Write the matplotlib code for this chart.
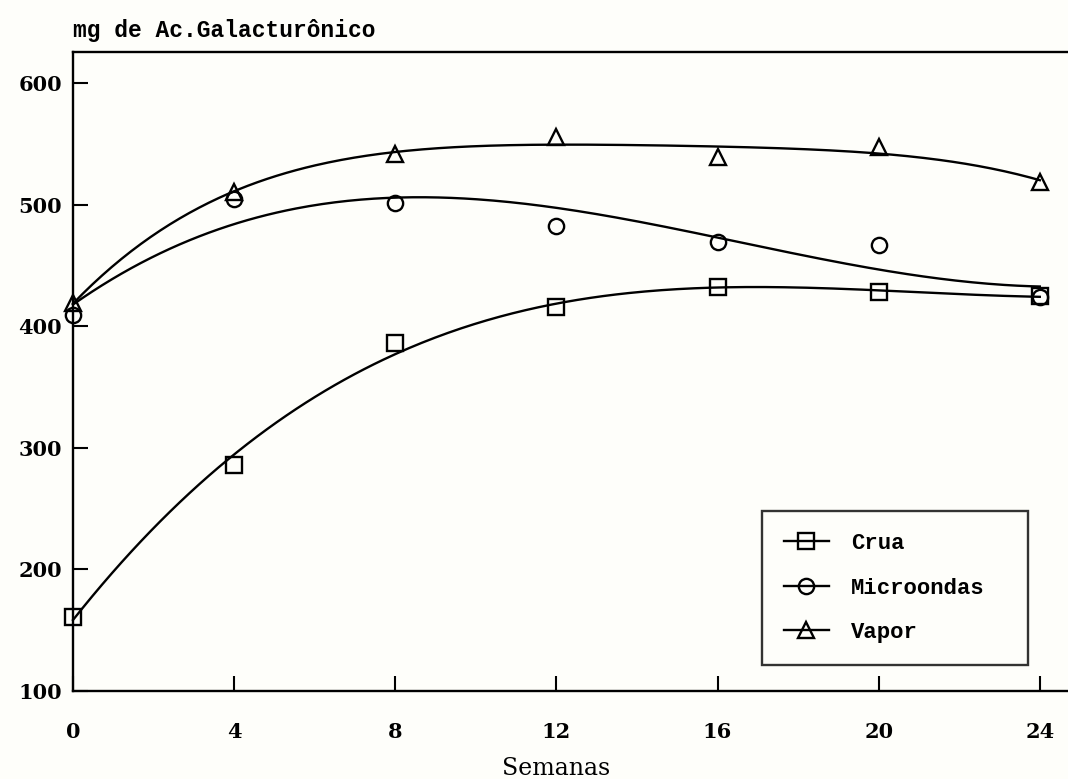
import matplotlib
matplotlib.use("Agg")
import matplotlib.pyplot as plt
import numpy as np
from matplotlib.lines import Line2D

# weeks of storage and pectin content (mg galacturonic acid)
semanas = [0, 4, 8, 12, 16, 20, 24]
crua = [161, 286, 386, 416, 432, 428, 425]
microondas = [409, 505, 501, 482, 469, 467, 424]
vapor = [419, 510, 542, 556, 539, 547, 519]

series = [("Crua", crua, "s", 3), ("Microondas", microondas, "o", 3), ("Vapor", vapor, "^", 4)]

mono = "Liberation Mono"
serif = "DejaVu Serif"
bg = "#fefefa"

fig = plt.figure(figsize=(10.68, 7.79), dpi=100, facecolor=bg)
ax = fig.add_axes([73 / 1068, 1 - 691 / 779, 1 - 73 / 1068, (691 - 52) / 779])
ax.set_facecolor(bg)

xs = np.linspace(0, 24, 300)
handles = []
for name, vals, mk, deg in series:
    # smooth trend: least-squares polynomial through the measured points
    coef = np.polyfit(semanas, vals, deg)
    ax.plot(xs, np.polyval(coef, xs), color="black", lw=1.7, clip_on=False)
    ax.plot(semanas, vals, mk, ms=12 if mk == "^" else 11, mfc="none", mec="black",
            mew=1.7, clip_on=False, zorder=3)
    handles.append(Line2D([], [], color="black", lw=1.7, marker=mk, ms=11, mfc="none",
                          mew=1.7, label=name))

ax.set_xlim(0, 24.7)
ax.set_ylim(100, 625.5)
ax.set_xticks(semanas)
ax.set_yticks([100, 200, 300, 400, 500, 600])
ax.spines["right"].set_visible(False)
for s in ["top", "left", "bottom"]:
    ax.spines[s].set_linewidth(1.7)
ax.tick_params(direction="in", length=11, width=1.5)
ax.tick_params(axis="y", pad=8)
ax.tick_params(axis="x", pad=22)
for lab in ax.get_xticklabels() + ax.get_yticklabels():
    lab.set_fontfamily(serif)
    lab.set_fontweight("bold")
    lab.set_fontsize(15)

ax.set_xlabel("Semanas", fontfamily=serif, fontsize=17)
ax.xaxis.set_label_coords((556 - 73) / 995, -0.103)
fig.text(73 / 1068, 1 - 30 / 779, "mg de Ac.Galacturônico", fontfamily=mono,
         fontweight="bold", fontsize=16.5, va="center", ha="left")

leg = ax.legend(handles=handles, loc="upper left",
                bbox_to_anchor=((762 - 73) / 995, (691 - 511) / 639, (1028 - 762) / 995, 0),
                mode="expand", frameon=True, fancybox=False, edgecolor="black", facecolor="none",
                prop={"family": mono, "weight": "bold", "size": 16},
                handlelength=2.0, borderpad=1.0, labelspacing=1.05, handletextpad=1.0,
                borderaxespad=0)
leg.get_frame().set_linewidth(1.7)

fig.savefig("out.png", dpi=100, facecolor=fig.get_facecolor())
